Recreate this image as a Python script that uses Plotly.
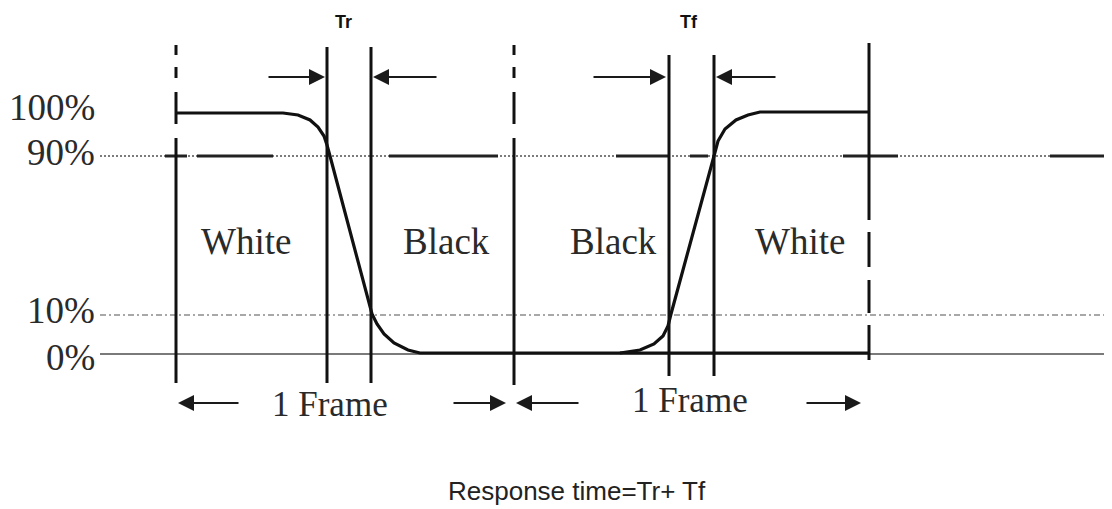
import plotly.graph_objects as go

# ---- schematic data (canvas pixel units, y grows downwards) ----
level_names = ["100%", "90%", "10%", "0%"]
level_rows = [113, 156, 315, 354]          # row of each reference level
label_rows = [107, 152, 310, 357]          # row of each level label

# white -> black transition (ends on the black floor up to the last frame edge)
fall_x = [176, 283, 298, 310, 318, 324, 327, 330, 372, 377, 384, 394, 408, 420, 869]
fall_y = [113, 113, 115, 120, 127, 136, 145, 156, 314, 324, 334, 343, 350, 353, 353]
# black -> white transition
rise_x = [620, 640, 654, 663, 668, 671, 714, 718, 725, 736, 748, 760, 869]
rise_y = [353, 350, 344, 336, 326, 314, 156, 141, 129, 120, 115, 112, 112]

# Tr / Tf measuring edges
tr_edges = [327, 371]
tf_edges = [669, 714]
tr_span = [47, 383]
tf_span = [55, 376]

# frame boundaries: (x, list of drawn segments)
frame_lines = [
    (176, [(45, 55), (67, 78), (92, 124), (138, 383)]),
    (514, [(45, 55), (67, 78), (92, 124), (138, 385)]),
    (869, [(43, 220), (232, 267), (280, 313), (325, 360)]),
]

# black dashes on the 90% line
dash90 = [(165, 187), (197, 273), (389, 498), (616, 668), (690, 708), (843, 898), (1050, 1112)]

region_names = ["White", "Black", "Black", "White"]
region_x = [246, 446, 613, 800]

frame_label_x = [330, 690]
frame_label_y = [404, 400]

W, H = 1112, 509
PAGE = 8   # the html body margin; the figure starts 8 px in
ink = "#111111"


def seg_trace(segs_x, segs_y, color, width, dash="solid"):
    xs, ys = [], []
    for sx, sy in zip(segs_x, segs_y):
        xs += list(sx) + [None]
        ys += list(sy) + [None]
    return go.Scatter(x=xs, y=ys, mode="lines", hoverinfo="skip",
                      line=dict(color=color, width=width, dash=dash))


fig = go.Figure()

# reference level lines
x0, x1 = 100, W
fig.add_trace(seg_trace([(x0, x1)], [(level_rows[3],) * 2], "#7a7a7a", 2.2))
fig.add_trace(seg_trace([(x0, x1)], [(level_rows[2],) * 2], "#8c8c8c", 1.6, "6px,3px,2px,3px"))
fig.add_trace(seg_trace([(x0, x1)], [(level_rows[1],) * 2], "#7c7c7c", 1.8, "2px,2px"))
fig.add_trace(seg_trace(dash90, [(level_rows[1],) * 2] * len(dash90), "#222222", 3))

# frame boundaries
for fx, segs in frame_lines:
    fig.add_trace(seg_trace([(fx, fx)] * len(segs), segs, ink, 3))

# Tr / Tf edges
fig.add_trace(seg_trace([(x, x) for x in tr_edges], [tr_span] * 2, ink, 3))
fig.add_trace(seg_trace([(x, x) for x in tf_edges], [tf_span] * 2, ink, 3))

# waveform
fig.add_trace(go.Scatter(x=fall_x, y=fall_y, mode="lines", hoverinfo="skip",
                         line=dict(color=ink, width=3.2)))
fig.add_trace(go.Scatter(x=rise_x, y=rise_y, mode="lines", hoverinfo="skip",
                         line=dict(color=ink, width=3.2)))

ann = []
serif = dict(family="Liberation Serif, Times New Roman, serif", color="#2a2a2a")

for name, row in zip(level_names, label_rows):
    ann.append(dict(x=97, y=row, text=name, xanchor="right", yanchor="middle",
                    showarrow=False, font=dict(size=37, **serif)))

for name, rx in zip(region_names, region_x):
    ann.append(dict(x=rx, y=241, text=name, xanchor="center", yanchor="middle",
                    showarrow=False, font=dict(size=37, **serif)))

for fx, fy in zip(frame_label_x, frame_label_y):
    ann.append(dict(x=fx, y=fy, text="1 Frame", xanchor="center", yanchor="middle",
                    showarrow=False, font=dict(size=35, **serif)))

bold = dict(family="Liberation Sans Narrow, Arial Narrow, Arial, sans-serif", color="#111111")
ann.append(dict(x=343, y=22, text="<b>Tr</b>", showarrow=False, font=dict(size=18, **bold)))
ann.append(dict(x=689, y=22, text="<b>Tf</b>", showarrow=False, font=dict(size=18, **bold)))

ann.append(dict(x=577, y=491, text="Response time=Tr+ Tf", showarrow=False,
                font=dict(size=26, family="Liberation Sans, Arial, sans-serif",
                          color="#222222")))

# arrows: (tip x, tip y, tail x)
arrows = [
    (325, 77, 267), (373, 77, 438),
    (666, 77, 592), (716, 77, 777),
    (178, 403, 240), (506, 403, 452),
    (516, 403, 580), (861, 403, 805),
]
for tx, ty, sx in arrows:
    ann.append(dict(x=tx, y=ty, ax=sx, ay=ty, xref="x", yref="y", axref="x", ayref="y",
                    text="", showarrow=True, arrowhead=2, arrowsize=1.6,
                    arrowwidth=2, arrowcolor="#1a1a1a"))

fig.update_layout(
    width=W - PAGE, height=H - PAGE,
    margin=dict(l=0, r=0, t=0, b=0),
    paper_bgcolor="white", plot_bgcolor="white",
    showlegend=False,
    xaxis=dict(range=[PAGE, W], visible=False, fixedrange=True),
    yaxis=dict(range=[H, PAGE], visible=False, fixedrange=True),
    annotations=ann,
)

fig.write_html("out.html")
